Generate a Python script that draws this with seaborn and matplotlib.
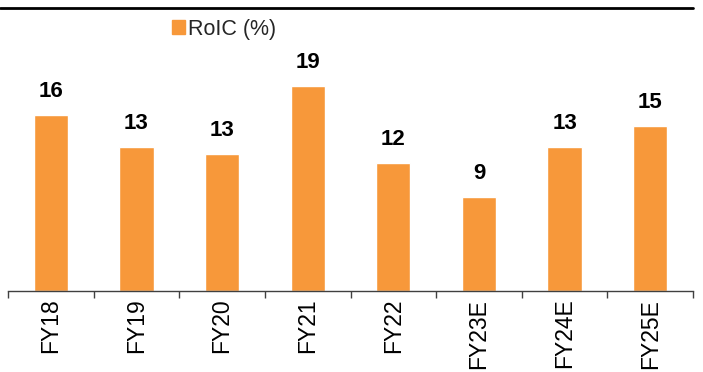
import matplotlib
matplotlib.use("Agg")
import matplotlib.pyplot as plt
from matplotlib.lines import Line2D
import seaborn as sns
import pandas as pd

years = ["FY18", "FY19", "FY20", "FY21", "FY22", "FY23E", "FY24E", "FY25E"]
roic = [16.2, 13.3, 12.6, 18.9, 11.8, 8.7, 13.3, 15.2]
series_name = "RoIC (%)"

bar_color = "#F7983A"

sns.set_theme(style="white")
plt.rcParams["font.family"] = ["Liberation Sans", "DejaVu Sans"]

W, H = 703, 372
fig = plt.figure(figsize=(W / 100, H / 100), dpi=100)
ax = fig.add_axes([8 / W, (H - 291) / H, (693 - 8) / W, (291 - 8) / H])

df = pd.DataFrame({"year": years, "value": roic, "series": series_name})
sns.barplot(data=df, x="year", y="value", hue="series", palette=[bar_color],
            width=0.4, ax=ax, legend=False, saturation=1)

ax.set_xlim(-0.5, len(years) - 0.5)
ax.set_ylim(0, 26.1)
ax.set_xlabel("")
ax.set_ylabel("")
ax.set_yticks([])

for sp in ["top", "left", "right"]:
    ax.spines[sp].set_visible(False)
ax.spines["bottom"].set_color("#404040")
ax.spines["bottom"].set_linewidth(1.0)

# category labels under the bars, tick marks between categories
ax.set_xticks(range(len(years)))
ax.set_xticklabels(years, rotation=90, fontsize=16.5, color="#000000")
ax.tick_params(axis="x", which="major", length=0, pad=5.5)
ax.set_xticks([i - 0.5 for i in range(len(years) + 1)], minor=True)
ax.tick_params(axis="x", which="minor", length=5, width=1, color="#404040",
               direction="out", bottom=True)

# value labels
for i, v in enumerate(roic):
    ax.text(i, v + 1.2, f"{v:.0f}", ha="center", va="bottom",
            fontsize=16, fontweight="bold", color="#000000")

# legend
handle = plt.Rectangle((0, 0), 1, 1, color=bar_color)
fig.legend([handle], [series_name], loc="center left",
           bbox_to_anchor=(172 / W, 1 - 29 / H), frameon=False,
           fontsize=15.5, handlelength=0.6, handleheight=0.6,
           handletextpad=0.15, borderaxespad=0, borderpad=0)

# rule across the top of the figure
fig.add_artist(Line2D([0, 693 / W], [1 - 7.5 / H, 1 - 7.5 / H],
                      color="#000000", linewidth=2,
                      transform=fig.transFigure))

fig.savefig("out.png", dpi=100)
